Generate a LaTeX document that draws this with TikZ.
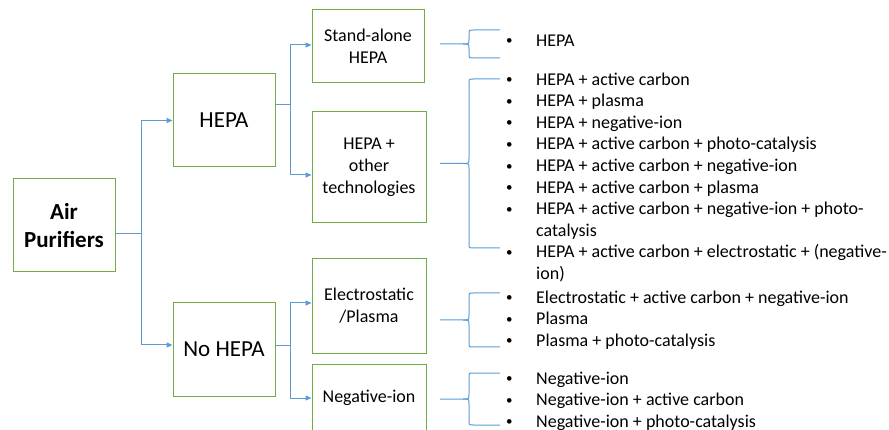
\documentclass[tikz,border=0pt]{standalone}
\usepackage{fontspec}
\setmainfont{Carlito}
\usetikzlibrary{arrows.meta}

\definecolor{boxgreen}{HTML}{70AD47}
\definecolor{linkblue}{HTML}{5B9BD5}

\tikzset{
    kind/.style={draw=boxgreen, line width=1pt, align=center, inner sep=2pt},
    bigkind/.style={kind, minimum width=102pt, minimum height=93pt, font=\fontsize{23}{27}\selectfont},
    subkind/.style={kind, minimum width=114pt, font=\fontsize{18}{22}\selectfont},
    link/.style={draw=linkblue, line width=1pt},
    itemlist/.style={anchor=north west, inner sep=0pt, font=\fontsize{18}{21.6}\selectfont},
}
\newcommand{\bul}{\makebox[32pt][l]{\hspace{2pt}\raisebox{1.5pt}{\fontsize{13}{13}\selectfont\textbullet}}}

\begin{document}
\begin{tikzpicture}[x=1pt, y=-1pt, >={Triangle[length=6pt,width=5pt]}]
        \clip (0,0) rectangle (889,430);
        \begin{scope}
            \node[bigkind, font=\fontsize{23}{27.3}\selectfont\bfseries] (air) at (64,225.5) {Air\\Purifiers};
            \node[bigkind] (hepa) at (224,120.5) {HEPA};
            \node[bigkind] (nohepa) at (224,349.5) {No HEPA};
            \node[subkind, minimum width=112pt, minimum height=73pt] (single) at (368,46.5) {Stand-alone\\HEPA};
            \node[subkind, minimum height=111pt] (hepamix) at (369,167.5) {HEPA +\\other\\technologies};
            \node[subkind, minimum height=94pt] (elec) at (369,306) {Electrostatic\\/Plasma};
            \node[subkind, minimum height=68pt] (neg) at (369,398) {Negative-ion};
        \end{scope}
        \begin{scope}[link]
            \draw [->] ([yshift=-8.5pt]air.east) -- ++(26,0) |- (hepa);
            \draw [->] ([yshift=-8.5pt]air.east) -- ++(26,0) |- ([yshift=4.5pt]nohepa.west);
            \draw [->] ([yshift=15.5pt]hepa.east) -- ++(15,0) |- ([yshift=1.5pt]single.west);
            \draw [->] ([yshift=15.5pt]hepa.east) -- ++(15,0) |- ([yshift=-7.5pt]hepamix.west);
            \draw [->] ([yshift=3.5pt]nohepa.east) -- ++(15,0) |- ([yshift=3pt]elec.west);
            \draw [->] ([yshift=3.5pt]nohepa.east) -- ++(15,0) |- (neg);
        \end{scope}
        % bullet lists
        \node[itemlist] (l1) at (504,30.8) {\begin{tabular}{@{}l@{}l@{}}
            \bul & HEPA
        \end{tabular}};
        \node[itemlist] (l2) at (504,69.8) {\begin{tabular}{@{}l@{}l@{}}
            \bul & HEPA + active carbon\\
            \bul & HEPA + plasma\\
            \bul & HEPA + negative-ion\\
            \bul & HEPA + active carbon + photo-catalysis\\
            \bul & HEPA + active carbon + negative-ion\\
            \bul & HEPA + active carbon + plasma\\
            \bul & HEPA + active carbon + negative-ion + photo-\\
                 & catalysis\\
            \bul & HEPA + active carbon + electrostatic + (negative-\\
                 & ion)
        \end{tabular}};
        \node[itemlist] (l3) at (504,287.8) {\begin{tabular}{@{}l@{}l@{}}
            \bul & Electrostatic + active carbon + negative-ion\\
            \bul & Plasma\\
            \bul & Plasma + photo-catalysis
        \end{tabular}};
        \node[itemlist] (l4) at (504,368.8) {\begin{tabular}{@{}l@{}l@{}}
            \bul & Negative-ion\\
            \bul & Negative-ion + active carbon\\
            \bul & Negative-ion + photo-catalysis
        \end{tabular}};
        % braces in front of the lists
        \foreach \ya/\ym/\yb in {30/44/58, 79/163.5/248, 293/320/347, 373/399/425} {
            \draw[link] (500,\ya) -- (474,\ya) .. controls (469,\ya) .. (469,\ya+4)
                -- (469,\ym-5) .. controls (469,\ym) .. (463,\ym) -- (440,\ym);
            \draw[link] (463,\ym) .. controls (469,\ym) .. (469,\ym+5)
                -- (469,\yb-4) .. controls (469,\yb) .. (474,\yb) -- (500,\yb);
        }
    \end{tikzpicture}
\end{document}
